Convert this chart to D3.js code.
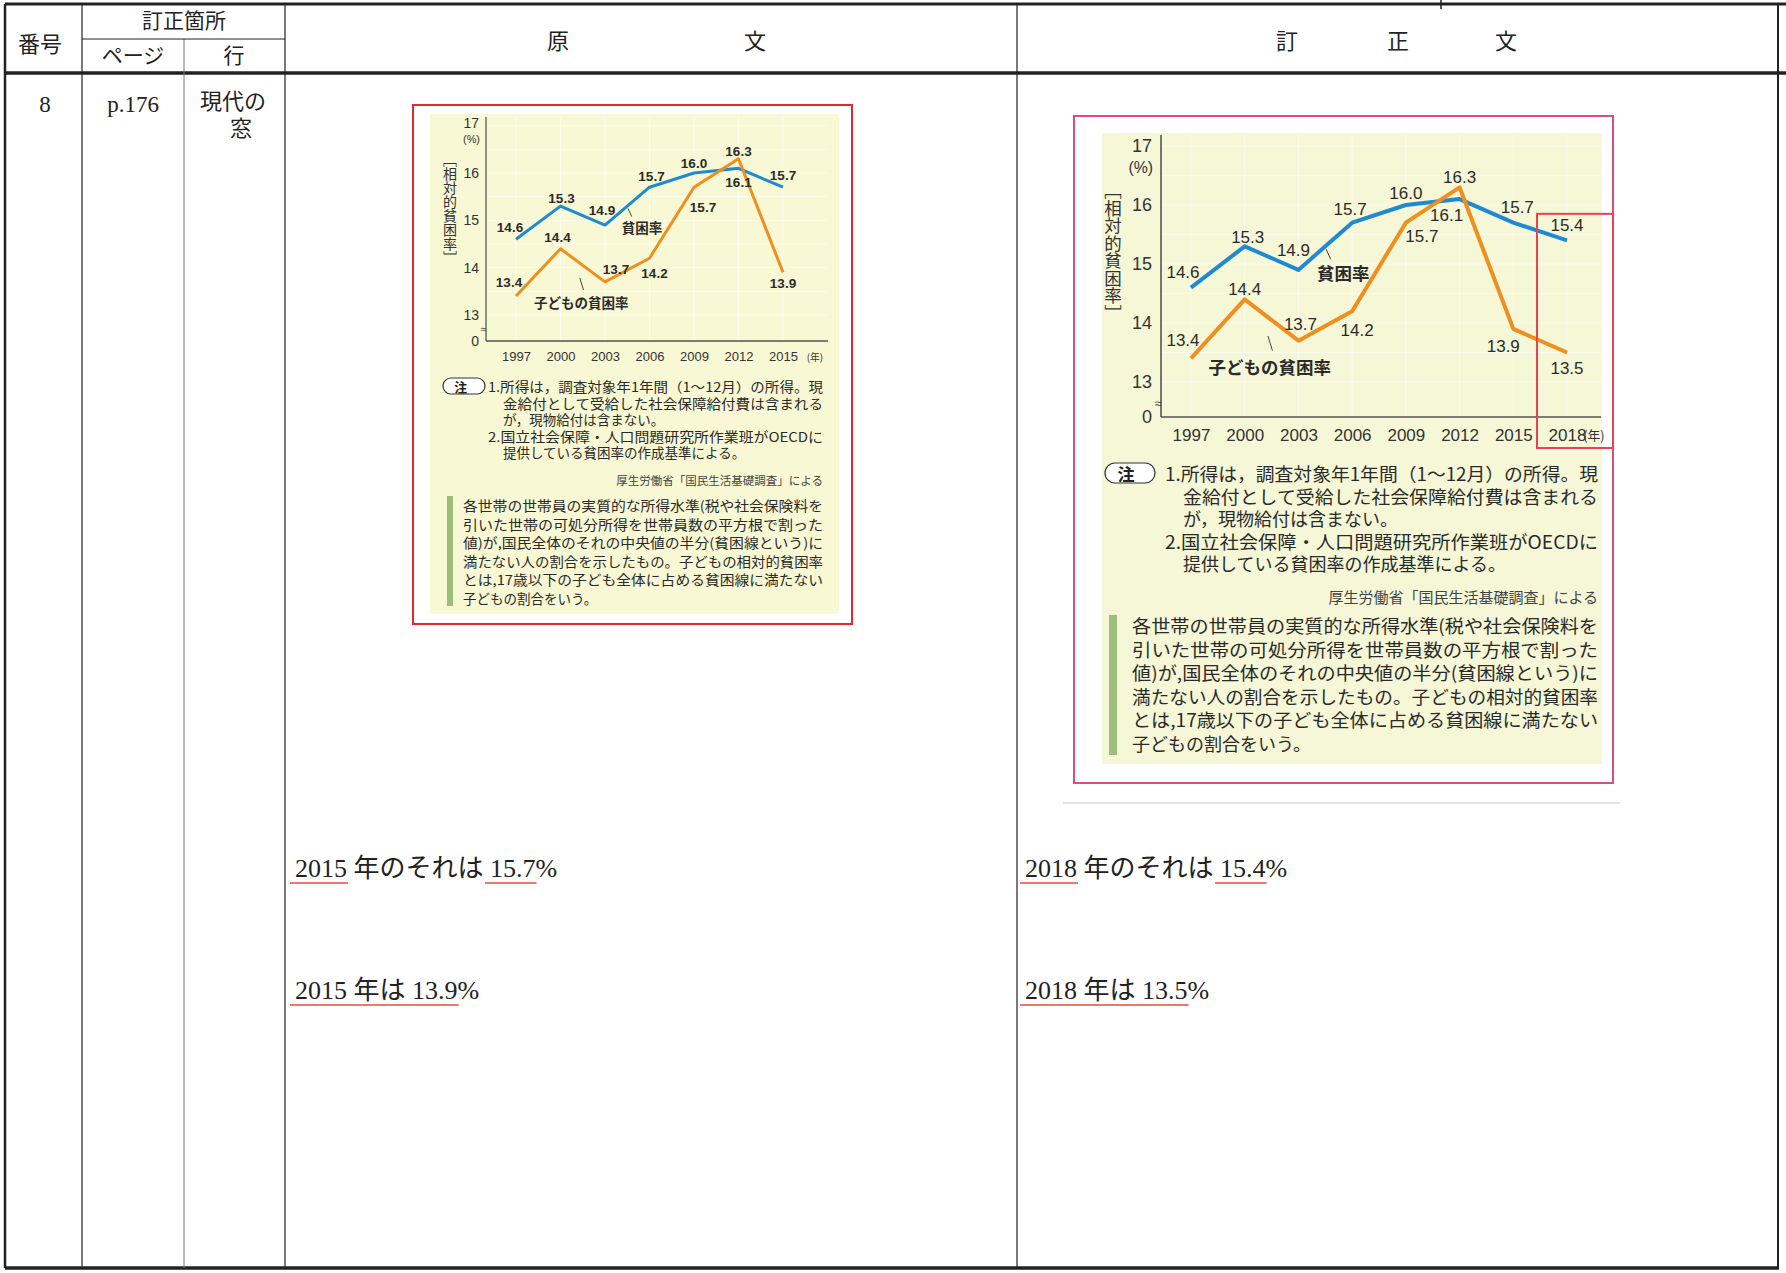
<!DOCTYPE html>
<html>
<head>
<meta charset="utf-8">
<script src="https://cdn.jsdelivr.net/npm/d3@7"></script>
<style>
  body { margin: 0; background: #fff; }
  svg { display: block; }
</style>
</head>
<body>
<svg id="page" width="1786" height="1273"></svg>
<script>
// ---- chart values ----
const yearsOld = [1997, 2000, 2003, 2006, 2009, 2012, 2015];
const povertyOld = [14.6, 15.3, 14.9, 15.7, 16.0, 16.1, 15.7];
const childOld = [13.4, 14.4, 13.7, 14.2, 15.7, 16.3, 13.9];

const yearsNew = [1997, 2000, 2003, 2006, 2009, 2012, 2015, 2018];
const povertyNew = [14.6, 15.3, 14.9, 15.7, 16.0, 16.1, 15.7, 15.4];
const childNew = [13.4, 14.4, 13.7, 14.2, 15.7, 16.3, 13.9, 13.5];

const yTicks = [13, 14, 15, 16, 17];
const yTitle = "［相対的貧困率］";
const povertyName = "貧困率";
const childName = "子どもの貧困率";

const noteLines = [
  "1.所得は，調査対象年1年間（1～12月）の所得。現",
  "金給付として受給した社会保障給付費は含まれる",
  "が，現物給付は含まない。",
  "2.国立社会保障・人口問題研究所作業班がOECDに",
  "提供している貧困率の作成基準による。"
];
const sourceText = "厚生労働省「国民生活基礎調査」による";
const explainLines = [
  "各世帯の世帯員の実質的な所得水準(税や社会保険料を",
  "引いた世帯の可処分所得を世帯員数の平方根で割った",
  "値)が,国民全体のそれの中央値の半分(貧困線という)に",
  "満たない人の割合を示したもの。子どもの相対的貧困率",
  "とは,17歳以下の子ども全体に占める貧困線に満たない",
  "子どもの割合をいう。"
];

// label nudges (pixels) for each value label
const offLeftBlue = [[-6,-12],[1,-8],[-3,-15],[2,-11],[0,-10],[0,14],[0,-12]];
const offLeftChild = [[-7,-14],[-3,-11],[11,-12],[5,15],[9,20],[0,-7],[0,11]];
const offRightBlue = [[-8,-15],[3,-9],[-5,-19],[-2,-13],[0,-12],[-13,16],[4,-15],[0,-15]];
const offRightChild = [[-8,-18],[0,-10],[2,-16],[5,19],[16,14],[0,-10],[-10,18],[0,16]];

const fontSans = "'Liberation Sans', Arial, 'Noto Sans CJK JP', sans-serif";
const fontJP = "'Noto Sans CJK JP', sans-serif";
const fontSerif = "'Liberation Serif', 'Noto Sans CJK JP', serif";

const BLUE = "#1f8ad2";
const ORANGE = "#f08f1e";
const INK = "#2b2b2b";

const svg = d3.select("#page");
svg.append("rect").attr("width", 1786).attr("height", 1273).attr("fill", "#fff");

// ---- the errata table ----
const tbl = svg.append("g").attr("stroke", "#222").attr("fill", "none");
tbl.append("line").attr("x1", 5).attr("x2", 1786).attr("y1", 4).attr("y2", 4).attr("stroke-width", 3);
tbl.append("line").attr("x1", 5).attr("x2", 1786).attr("y1", 73).attr("y2", 73).attr("stroke-width", 3.5);
tbl.append("line").attr("x1", 5).attr("x2", 1779).attr("y1", 1268).attr("y2", 1268).attr("stroke-width", 3.5);
tbl.append("line").attr("x1", 5).attr("x2", 5).attr("y1", 4).attr("y2", 1268).attr("stroke-width", 2.5);
tbl.append("line").attr("x1", 1778).attr("x2", 1778).attr("y1", 4).attr("y2", 1268).attr("stroke-width", 2);
tbl.append("line").attr("x1", 82).attr("x2", 82).attr("y1", 4).attr("y2", 1268).attr("stroke-width", 1.2);
tbl.append("line").attr("x1", 184).attr("x2", 184).attr("y1", 39).attr("y2", 1268).attr("stroke-width", 1).attr("stroke", "#777");
tbl.append("line").attr("x1", 285).attr("x2", 285).attr("y1", 4).attr("y2", 1268).attr("stroke-width", 1.2);
tbl.append("line").attr("x1", 1017).attr("x2", 1017).attr("y1", 4).attr("y2", 1268).attr("stroke-width", 1.2);
tbl.append("line").attr("x1", 82).attr("x2", 285).attr("y1", 39).attr("y2", 39).attr("stroke-width", 1);
tbl.append("line").attr("x1", 1441).attr("x2", 1441).attr("y1", 0).attr("y2", 9).attr("stroke-width", 1.5);

const headTexts = [
  { t: "番号", x: 40, y: 44, s: 22 },
  { t: "訂正箇所", x: 184, y: 21, s: 21 },
  { t: "ページ", x: 133, y: 56, s: 21 },
  { t: "行", x: 234, y: 56, s: 21 },
  { t: "原", x: 558, y: 41, s: 22 },
  { t: "文", x: 755, y: 41, s: 22 },
  { t: "訂", x: 1287, y: 41, s: 22 },
  { t: "正", x: 1398, y: 41, s: 22 },
  { t: "文", x: 1506, y: 41, s: 22 },
  { t: "8", x: 45, y: 104, s: 23 },
  { t: "p.176", x: 133, y: 104, s: 23 },
  { t: "現代の", x: 233, y: 101, s: 22 },
  { t: "窓", x: 241, y: 128, s: 22 }
];
svg.append("g").selectAll("text").data(headTexts).join("text")
  .attr("x", d => d.x).attr("y", d => d.y)
  .attr("text-anchor", "middle").attr("dominant-baseline", "central")
  .style("font-family", fontSerif).style("font-size", d => d.s + "px").attr("fill", "#222")
  .text(d => d.t);

// ---- one chart panel ----
function drawChart(c) {
  const g = svg.append("g");
  const years = c.years;
  const x = d3.scaleLinear().domain([years[0], years[years.length - 1]]).range(c.xRange);
  const y = d3.scaleLinear().domain([13, 16]).range(c.yRange);
  const k = c.k;

  g.append("rect").attr("x", c.box[0]).attr("y", c.box[1])
    .attr("width", c.box[2] - c.box[0]).attr("height", c.box[3] - c.box[1])
    .attr("fill", "#fff").attr("stroke", c.boxColor).attr("stroke-width", 2);
  g.append("rect").attr("x", c.panel[0]).attr("y", c.panel[1])
    .attr("width", c.panel[2] - c.panel[0]).attr("height", c.panel[3] - c.panel[1])
    .attr("fill", c.panelColor);

  // faint grid
  const grid = g.append("g").attr("stroke", "#ffffff").attr("stroke-opacity", 0.55).attr("stroke-width", 1);
  grid.selectAll("line.v").data(years).join("line")
    .attr("x1", d => x(d)).attr("x2", d => x(d)).attr("y1", c.axisTop).attr("y2", c.xAxisY);
  grid.selectAll("line.h").data(d3.range(13, 17.01, 0.5)).join("line")
    .attr("x1", c.axisX).attr("x2", c.axisRight).attr("y1", d => y(d)).attr("y2", d => y(d));

  // axes
  g.append("line").attr("x1", c.axisX).attr("x2", c.axisX).attr("y1", c.axisTop).attr("y2", c.xAxisY)
    .attr("stroke", "#555").attr("stroke-width", 1.6 * k);
  g.append("line").attr("x1", c.axisX).attr("x2", c.axisRight).attr("y1", c.xAxisY).attr("y2", c.xAxisY)
    .attr("stroke", "#555").attr("stroke-width", 1.6 * k);

  const yAx = g.append("g").attr("transform", `translate(${c.axisX},0)`)
    .call(d3.axisLeft(y).tickValues(yTicks).tickFormat(d3.format("d")).tickSize(0).tickPadding(c.tickPad));
  yAx.select(".domain").remove();
  yAx.selectAll("text").style("font-family", fontSans).style("font-size", c.tickFont + "px").attr("fill", "#333");
  // the top label sits a little higher so "(%)" fits beneath it
  yAx.selectAll(".tick").filter(d => d === 17).select("text").attr("y", -c.topLift);

  g.append("text").attr("x", c.axisX - c.tickPad + 1).attr("y", y(17) + c.pctGap)
    .attr("text-anchor", "end").attr("dominant-baseline", "central")
    .style("font-family", fontSans).style("font-size", (c.tickFont * c.pctScale) + "px").attr("fill", "#333").text("(%)");
  g.append("text").attr("x", c.axisX - c.tickPad).attr("y", c.xAxisY)
    .attr("text-anchor", "end").attr("dominant-baseline", "central")
    .style("font-family", fontSans).style("font-size", c.tickFont + "px").attr("fill", "#333").text("0");
  g.append("text").attr("x", c.axisX - 3 * k).attr("y", c.xAxisY - 14 * k)
    .attr("text-anchor", "middle").attr("dominant-baseline", "central")
    .style("font-family", fontSans).style("font-size", (13 * k) + "px").attr("fill", "#444").text("≈");

  const xAx = g.append("g").attr("transform", `translate(0,${c.xAxisY})`)
    .call(d3.axisBottom(x).tickValues(years).tickFormat(d3.format("d")).tickSize(0).tickPadding(c.xPad));
  xAx.select(".domain").remove();
  xAx.selectAll("text").style("font-family", fontSans).style("font-size", c.xFont + "px").attr("fill", "#333");
  g.append("text").attr("x", x(years[years.length - 1]) + c.nenDx).attr("y", c.xAxisY + c.xPad + c.xFont * 0.35)
    .attr("text-anchor", "middle").attr("dominant-baseline", "central")
    .style("font-family", fontJP).style("font-size", (c.xFont * 0.75) + "px").attr("fill", "#333").text("(年)");

  g.append("text").attr("x", c.titleX).attr("y", c.titleY)
    .attr("text-anchor", "middle").style("writing-mode", "vertical-rl")
    .style("font-family", fontJP).style("font-size", c.titleFont + "px").attr("fill", "#333").text(yTitle);

  // lines
  const line = d3.line().x(d => x(d.year)).y(d => y(d.v));
  const pov = years.map((yr, i) => ({ year: yr, v: c.poverty[i] }));
  const kid = years.map((yr, i) => ({ year: yr, v: c.child[i] }));
  g.append("path").datum(pov).attr("d", line).attr("fill", "none").attr("stroke", BLUE)
    .attr("stroke-width", c.lineW).attr("stroke-linejoin", "round");
  g.append("path").datum(kid).attr("d", line).attr("fill", "none").attr("stroke", ORANGE)
    .attr("stroke-width", c.lineW).attr("stroke-linejoin", "round");

  // value labels
  const lab = (data, offs) => g.append("g").selectAll("text").data(data).join("text")
    .attr("x", (d, i) => x(d.year) + offs[i][0])
    .attr("y", (d, i) => y(d.v) + offs[i][1])
    .attr("text-anchor", "middle").attr("dominant-baseline", "central")
    .style("font-family", fontSans).style("font-size", c.valFont + "px")
    .style("font-weight", c.valWeight).attr("fill", INK)
    .text(d => d.v.toFixed(1));
  lab(pov, c.offBlue);
  lab(kid, c.offChild);

  // series names with small leaders
  g.append("text").attr("x", x(2005.5)).attr("y", y(14.85))
    .attr("text-anchor", "middle").attr("dominant-baseline", "central")
    .style("font-family", fontJP).style("font-size", c.nameFont + "px").style("font-weight", "bold")
    .attr("fill", INK).text(povertyName);
  g.append("text").attr("x", x(2001.4)).attr("y", y(13.27))
    .attr("text-anchor", "middle").attr("dominant-baseline", "central")
    .style("font-family", fontJP).style("font-size", c.nameFont + "px").style("font-weight", "bold")
    .attr("fill", INK).text(childName);
  g.append("line").attr("x1", x(2004.55)).attr("y1", y(15.25)).attr("x2", x(2004.8)).attr("y2", y(15.08))
    .attr("stroke", "#444").attr("stroke-width", 1);
  g.append("line").attr("x1", x(2001.3)).attr("y1", y(13.78)).attr("x2", x(2001.55)).attr("y2", y(13.53))
    .attr("stroke", "#444").attr("stroke-width", 1);

  // highlight around the new year
  if (c.highlight) {
    const last = years[years.length - 1];
    g.append("rect").attr("x", x(last) - 30).attr("y", y(15.85))
      .attr("width", 76).attr("height", c.xAxisY + 31 - y(15.85))
      .attr("fill", "none").attr("stroke", "#e8434f").attr("stroke-width", 2);
  }

  // notes
  const pill = g.append("g");
  pill.append("rect").attr("x", c.pill[0]).attr("y", c.pill[1]).attr("width", c.pill[2]).attr("height", c.pill[3])
    .attr("rx", c.pill[3] / 2).attr("fill", "#fff").attr("stroke", "#333").attr("stroke-width", 1.2);
  pill.append("text").attr("x", c.pill[0] + c.pill[2] * 0.42).attr("y", c.pill[1] + c.pill[3] / 2)
    .attr("text-anchor", "middle").attr("dominant-baseline", "central")
    .style("font-family", fontJP).style("font-size", (c.noteFont * 0.95) + "px").style("font-weight", "bold")
    .attr("fill", "#222").text("注");

  const noteStarts = [c.noteX1, c.noteX2, c.noteX2, c.noteX1, c.noteX2];
  const noteFull = [true, true, false, true, false];
  g.append("g").selectAll("text").data(noteLines).join("text")
    .attr("x", (d, i) => noteStarts[i]).attr("y", (d, i) => c.noteY + i * c.noteStep)
    .attr("dominant-baseline", "central")
    .attr("textLength", (d, i) => noteFull[i] ? c.textRight - noteStarts[i] : null)
    .attr("lengthAdjust", "spacingAndGlyphs")
    .style("font-family", fontJP).style("font-size", c.noteFont + "px").attr("fill", "#2a2a2a")
    .text(d => d);

  g.append("text").attr("x", c.textRight).attr("y", c.sourceY)
    .attr("text-anchor", "end").attr("dominant-baseline", "central")
    .style("font-family", fontJP).style("font-size", c.sourceFont + "px").attr("fill", "#444")
    .text(sourceText);

  g.append("rect").attr("x", c.bar[0]).attr("y", c.bar[1]).attr("width", c.bar[2]).attr("height", c.bar[3])
    .attr("fill", "#9dbd7b");
  g.append("g").selectAll("text").data(explainLines).join("text")
    .attr("x", c.explX).attr("y", (d, i) => c.explY + i * c.explStep)
    .attr("dominant-baseline", "central")
    .attr("textLength", (d, i) => i < explainLines.length - 1 ? c.textRight - c.explX : null)
    .attr("lengthAdjust", "spacingAndGlyphs")
    .style("font-family", fontJP).style("font-size", c.noteFont + "px").attr("fill", "#2a2a2a")
    .text(d => d);
}

drawChart({
  years: yearsOld, poverty: povertyOld, child: childOld,
  offBlue: offLeftBlue, offChild: offLeftChild, k: 0.8,
  box: [413, 105, 852, 624], boxColor: "#e8262f",
  panel: [430, 114, 839, 614], panelColor: "#f8f8d4",
  xRange: [516, 783], yRange: [315, 173],
  axisX: 486, axisTop: 117, xAxisY: 341, axisRight: 828,
  tickPad: 7, tickFont: 14, pctGap: 13, pctScale: 0.78, topLift: 3,
  xPad: 11, xFont: 13, nenDx: 32,
  titleX: 450, titleY: 209, titleFont: 14,
  lineW: 3, valFont: 13.5, valWeight: "bold", nameFont: 13.5,
  highlight: false,
  pill: [443, 378, 42, 16],
  noteX1: 488, noteX2: 503, textRight: 823, noteY: 386, noteStep: 16.6, noteFont: 13.5,
  sourceY: 480, sourceFont: 11.5,
  bar: [447, 496, 6, 110],
  explX: 463, explY: 505, explStep: 18.5
});

drawChart({
  years: yearsNew, poverty: povertyNew, child: childNew,
  offBlue: offRightBlue, offChild: offRightChild, k: 1,
  box: [1074, 116, 1613, 783], boxColor: "#dc4d7e",
  panel: [1102, 133, 1602, 764], panelColor: "#f5f7d6",
  xRange: [1191, 1567], yRange: [382, 205],
  axisX: 1161, axisTop: 135, xAxisY: 417, axisRight: 1601,
  tickPad: 9, tickFont: 18, pctGap: 21, pctScale: 0.88, topLift: 0,
  xPad: 12, xFont: 17, nenDx: 27,
  titleX: 1113, titleY: 252, titleFont: 17.5,
  lineW: 4, valFont: 17, valWeight: "normal", nameFont: 17.5,
  highlight: true,
  pill: [1105, 463, 50, 20],
  noteX1: 1165, noteX2: 1183, textRight: 1598, noteY: 473, noteStep: 22.5, noteFont: 18,
  sourceY: 596, sourceFont: 15,
  bar: [1109, 615, 8, 140],
  explX: 1132, explY: 625, explStep: 23.6
});

// faint scan shadow under the corrected panel
svg.append("line").attr("x1", 1063).attr("x2", 1620).attr("y1", 803).attr("y2", 803)
  .attr("stroke", "#e4e4e4").attr("stroke-width", 2);

// ---- underlined correction sentences ----
const sentenceRows = [
  { x: 295, y: 868, segs: [{ t: "2015", u: true }, { t: " 年のそれは " }, { t: "15.7", u: true }, { t: "%" }] },
  { x: 295, y: 990, segs: [{ t: "2015 年は 13.9", u: true }, { t: "%" }] },
  { x: 1025, y: 868, segs: [{ t: "2018", u: true }, { t: " 年のそれは " }, { t: "15.4", u: true }, { t: "%" }] },
  { x: 1025, y: 990, segs: [{ t: "2018 年は 13.5", u: true }, { t: "%" }] }
];
const sg = svg.append("g");
sentenceRows.forEach(row => {
  let cx = row.x;
  row.segs.forEach(s => {
    const t = sg.append("text").attr("x", cx).attr("y", row.y)
      .attr("dominant-baseline", "central").attr("xml:space", "preserve")
      .style("white-space", "pre")
      .style("font-family", fontSerif).style("font-size", "26px").attr("fill", "#222")
      .text(s.t);
    const w = t.node().getComputedTextLength();
    if (s.u) {
      sg.append("line").attr("x1", cx - 5).attr("x2", cx + w + 1)
        .attr("y1", row.y + 15).attr("y2", row.y + 15)
        .attr("stroke", "#ea4a3c").attr("stroke-width", 1.6);
    }
    cx += w;
  });
});
</script>
</body>
</html>
